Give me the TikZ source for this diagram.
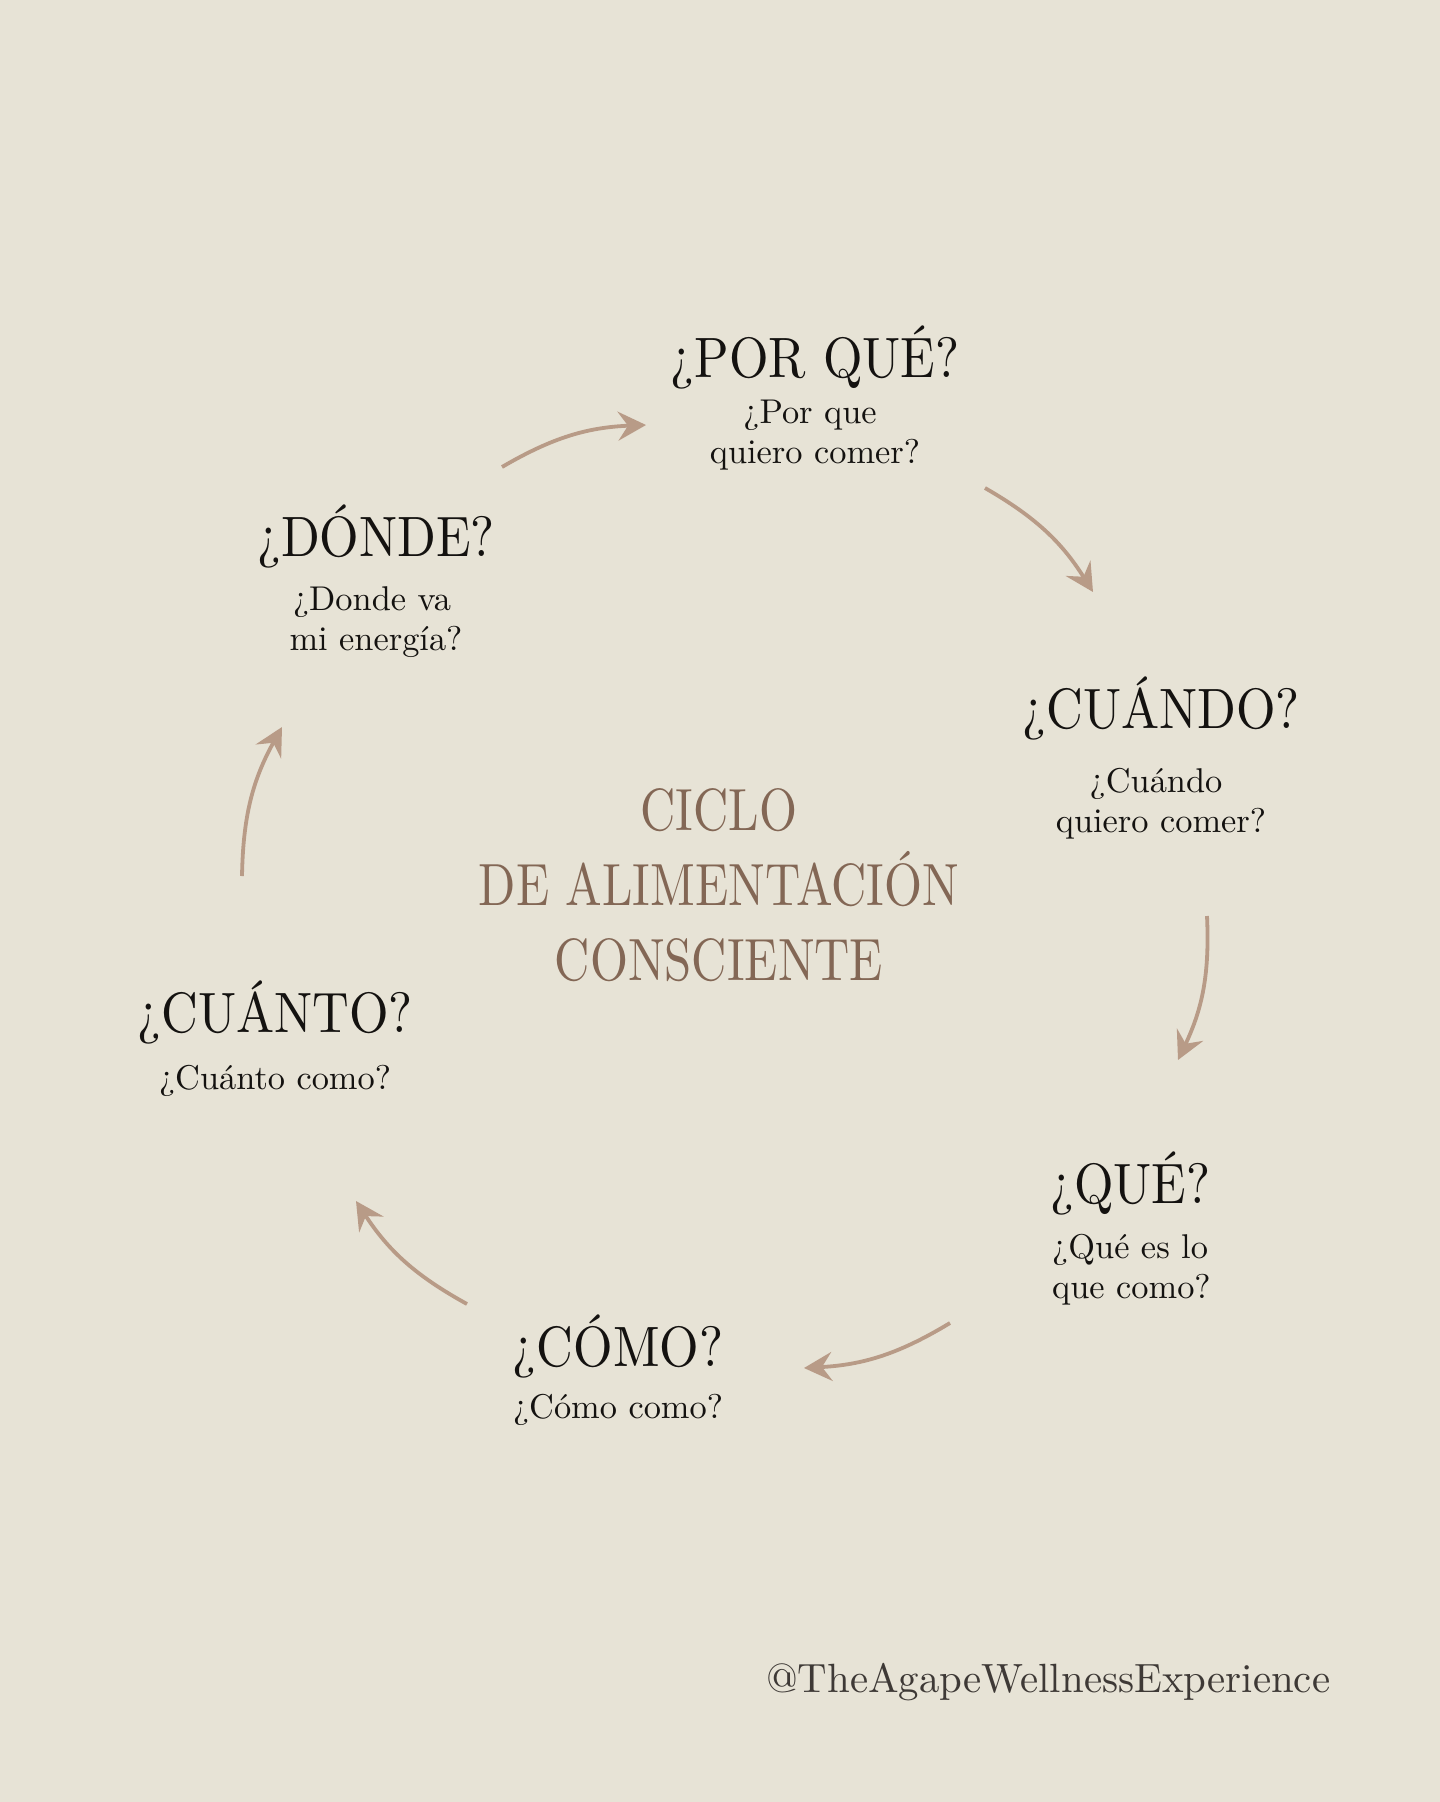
\documentclass[tikz,border=0pt]{standalone}
\usepackage{fontspec}
\usepackage{graphicx}
\usetikzlibrary{arrows.meta}
\setmainfont{lmroman10-regular}[Extension=.otf]
\definecolor{bg}{HTML}{E7E3D6}
\definecolor{titlebrown}{HTML}{836755}
\definecolor{arrowc}{HTML}{B89B87}
\definecolor{ink}{HTML}{141210}
\definecolor{markc}{HTML}{3E3936}
\newcommand\tallq[1]{\scalebox{1}[1.12]{#1}}
\newcommand\tallc[1]{\scalebox{1}[1.22]{#1}}
\begin{document}
\begin{tikzpicture}[x=1bp,y=1bp,
  qtitle/.style={anchor=base, text=ink, inner sep=0pt, font=\fontsize{51}{60}\selectfont},
  qsub/.style={anchor=base, text=ink, inner sep=0pt, font=\fontsize{34.5}{40}\selectfont},
  ctitle/.style={anchor=base, text=titlebrown, inner sep=0pt, font=\fontsize{49}{60}\selectfont},
  wmark/.style={anchor=base west, text=markc, inner sep=0pt, font=\fontsize{41}{48}\selectfont},
  cyc/.style={draw=arrowc, line width=3.8bp, -{Stealth[length=28bp,width=29bp,inset=10bp]}, bend left=14},
]
\fill[bg] (0,0) rectangle (1440,-1802);
\useasboundingbox (0,0) rectangle (1440,-1802);

% POR QUE
\node[qtitle] (pqt) at (815,-377) {\tallq{¿POR QUÉ?}};
\node[qsub] (pqs1) at (810,-423) {¿Por que};
\node[qsub] (pqs2) at (815,-463) {quiero comer?};

% CUANDO
\node[qtitle] (cdt) at (1161,-728) {\tallq{¿CUÁNDO?}};
\node[qsub] (cds1) at (1156,-792) {¿Cuándo};
\node[qsub] (cds2) at (1161,-832) {quiero comer?};

% QUE
\node[qtitle, anchor=base west] (qut) at (1050,-1203) {\tallq{¿QUÉ?}};
\node[qsub, anchor=base west] (qus1) at (1052,-1258) {¿Qué es lo};
\node[qsub, anchor=base west] (qus2) at (1052,-1298) {que como?};

% COMO
\node[qtitle] (cmt) at (618,-1366) {\tallq{¿CÓMO?}};
\node[qsub] (cms1) at (618,-1418) {¿Cómo como?};

% CUANTO
\node[qtitle] (cnt) at (275,-1032) {\tallq{¿CUÁNTO?}};
\node[qsub] (cns1) at (275,-1089) {¿Cuánto como?};

% DONDE
\node[qtitle] (dnt) at (376,-556) {\tallq{¿DÓNDE?}};
\node[qsub] (dns1) at (372,-610) {¿Donde va};
\node[qsub] (dns2) at (376,-650) {mi energía?};

% centre title
\node[ctitle] (c1) at (719,-830) {\tallc{CICLO}};
\node[ctitle] (c2) at (719,-905) {\tallc{DE ALIMENTACIÓN}};
\node[ctitle] (c3) at (719,-980) {\tallc{CONSCIENTE}};

% watermark
\node[wmark] (wm) at (766,-1692) {@TheAgapeWellnessExperience};

% arrow end points
\coordinate (a1s) at (502,-467);  \coordinate (a1e) at (646,-425);
\coordinate (a2s) at (985,-488);  \coordinate (a2e) at (1093,-592);
\coordinate (a3s) at (1207,-916); \coordinate (a3e) at (1178,-1060);
\coordinate (a4s) at (950,-1323); \coordinate (a4e) at (804,-1368);
\coordinate (a5s) at (467,-1304); \coordinate (a5e) at (356,-1201);
\coordinate (a6s) at (242,-876);  \coordinate (a6e) at (282,-727);

\draw[cyc] (a1s) to (a1e);
\draw[cyc] (a2s) to (a2e);
\draw[cyc] (a3s) to (a3e);
\draw[cyc] (a4s) to (a4e);
\draw[cyc] (a5s) to (a5e);
\draw[cyc] (a6s) to (a6e);
\end{tikzpicture}
\end{document}
